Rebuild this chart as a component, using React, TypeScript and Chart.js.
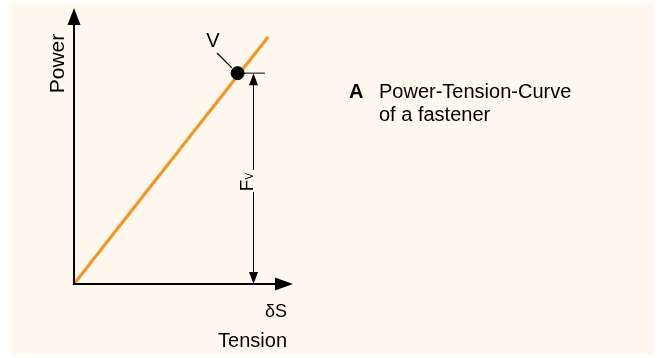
import React, { useEffect, useRef } from "react";
import { Chart, registerables } from "chart.js";

Chart.register(...registerables);

// ---- data (chart units) ----
const axisMax = 10;
const curveTension = [0, 8.87];
const curvePower = [0, 8.96];
const vTension = [7.47];
const vPower = [7.64];
const tickTension = [7.47, 8.72];
const leaderTension = [6.53, 7.21];
const leaderPower = [8.37, 7.83];
const fvTension = 8.22;

const xLabel = "Tension";
const xSymbol = "δS";
const yLabel = "Power";
const pointLabel = "V";
const dimLabel = "F";
const dimSub = "V";
const legendKey = "A";
const legendLines = ["Power-Tension-Curve", "of a fastener"];

const ORANGE = "#f7941d";
const PANEL = "#fef8ee";
const FONT = "'Liberation Sans', Arial, Helvetica, sans-serif";

const pts = (xs: number[], ys: number[]) => xs.map((x, i) => ({ x, y: ys[i] }));

const drawPlugin = {
  id: "sketch",
  beforeDraw(chart: any) {
    const ctx = chart.ctx;
    ctx.save();
    ctx.fillStyle = "#ffffff";
    ctx.fillRect(0, 0, chart.width, chart.height);
    ctx.fillStyle = PANEL;
    ctx.fillRect(11, 3, 643, 352);
    ctx.restore();
  },
  afterDatasetsDraw(chart: any) {
    const ctx = chart.ctx;
    const xs = chart.scales.x;
    const ys = chart.scales.y;
    const x0 = xs.getPixelForValue(0);
    const y0 = ys.getPixelForValue(0);
    const xEnd = xs.getPixelForValue(axisMax);
    const yTop = ys.getPixelForValue(axisMax);
    ctx.save();
    ctx.strokeStyle = "#000";
    ctx.fillStyle = "#000";
    // y axis
    ctx.lineWidth = 2;
    ctx.beginPath();
    ctx.moveTo(x0, y0 + 1);
    ctx.lineTo(x0, yTop + 15);
    ctx.stroke();
    ctx.beginPath();
    ctx.moveTo(x0, yTop);
    ctx.lineTo(x0 - 6.5, yTop + 17);
    ctx.lineTo(x0 + 6.5, yTop + 17);
    ctx.closePath();
    ctx.fill();
    // x axis
    ctx.beginPath();
    ctx.moveTo(x0 - 1, y0);
    ctx.lineTo(xEnd - 16, y0);
    ctx.stroke();
    ctx.beginPath();
    ctx.moveTo(xEnd, y0);
    ctx.lineTo(xEnd - 18, y0 - 6.5);
    ctx.lineTo(xEnd - 18, y0 + 6.5);
    ctx.closePath();
    ctx.fill();

    // dimension arrow F_V
    const fx = Math.round(xs.getPixelForValue(fvTension)) - 0.5;
    const fyTop = ys.getPixelForValue(vPower[0]);
    ctx.font = `19px ${FONT}`;
    const wF = ctx.measureText(dimLabel).width;
    ctx.font = `10px ${FONT}`;
    const wV = ctx.measureText(dimSub).width;
    const wText = wF + wV;
    const tCenter = 182;
    const gapTop = tCenter - wText / 2 - 3;
    const gapBot = tCenter + wText / 2 + 1;
    ctx.lineWidth = 1;
    ctx.beginPath();
    ctx.moveTo(fx, fyTop + 10);
    ctx.lineTo(fx, gapTop);
    ctx.moveTo(fx, gapBot);
    ctx.lineTo(fx, y0 - 10);
    ctx.stroke();
    ctx.beginPath();
    ctx.moveTo(fx, fyTop);
    ctx.lineTo(fx - 4.5, fyTop + 12);
    ctx.lineTo(fx + 4.5, fyTop + 12);
    ctx.closePath();
    ctx.fill();
    ctx.beginPath();
    ctx.moveTo(fx, y0);
    ctx.lineTo(fx - 4.5, y0 - 12);
    ctx.lineTo(fx + 4.5, y0 - 12);
    ctx.closePath();
    ctx.fill();

    // rotated F_V label
    ctx.save();
    ctx.translate(fx - 0.5, tCenter + wText / 2);
    ctx.rotate(-Math.PI / 2);
    ctx.textBaseline = "alphabetic";
    ctx.textAlign = "left";
    ctx.font = `19px ${FONT}`;
    ctx.fillText(dimLabel, 0, 0);
    ctx.font = `10px ${FONT}`;
    ctx.fillText(dimSub, wF, 0);
    ctx.restore();

    // V label
    const lx = xs.getPixelForValue(leaderTension[0]);
    const ly = ys.getPixelForValue(leaderPower[0]);
    ctx.font = `20px ${FONT}`;
    ctx.textAlign = "center";
    ctx.textBaseline = "alphabetic";
    ctx.fillText(pointLabel, lx - 4, ly - 6);

    // Power label (rotated)
    ctx.save();
    ctx.translate(x0 - 10, 63.5);
    ctx.rotate(-Math.PI / 2);
    ctx.font = `21px ${FONT}`;
    ctx.textAlign = "center";
    ctx.textBaseline = "alphabetic";
    ctx.fillText(yLabel, 0, 0);
    ctx.restore();

    // x labels
    ctx.textAlign = "right";
    ctx.font = `18px ${FONT}`;
    ctx.fillText(xSymbol, xEnd - 6, y0 + 33);
    ctx.font = `20px ${FONT}`;
    ctx.fillText(xLabel, xEnd - 6, y0 + 63);

    // legend block
    ctx.textAlign = "left";
    ctx.font = `bold 20px ${FONT}`;
    ctx.fillText(legendKey, 349, 98);
    ctx.font = `20px ${FONT}`;
    ctx.fillText(legendLines[0], 379, 98);
    ctx.fillText(legendLines[1], 379, 121);
    ctx.restore();
  },
};

export default function App() {
  const ref = useRef<HTMLCanvasElement | null>(null);
  useEffect(() => {
    if (!ref.current) return;
    const chart = new Chart(ref.current, {
      type: "scatter",
      data: {
        datasets: [
          {
            data: pts(vTension, vPower),
            backgroundColor: "#000",
            borderColor: "#000",
            pointRadius: 6.5,
            order: 0,
            clip: false as any,
          },
          {
            data: pts(leaderTension, leaderPower),
            showLine: true,
            borderColor: "#000",
            borderWidth: 1.2,
            pointRadius: 0,
            order: 1,
            clip: false as any,
          },
          {
            data: pts(tickTension, [vPower[0], vPower[0]]),
            showLine: true,
            borderColor: "#000",
            borderWidth: 1,
            pointRadius: 0,
            order: 2,
            clip: false as any,
          },
          {
            data: pts(curveTension, curvePower),
            showLine: true,
            borderColor: ORANGE,
            borderWidth: 3,
            pointRadius: 0,
            order: 3,
            clip: false as any,
          },
        ],
      },
      options: {
        responsive: false,
        animation: false,
        layout: { padding: { left: 74, right: 367, top: 8, bottom: 74 } },
        scales: {
          x: { type: "linear", min: 0, max: axisMax, display: false },
          y: { type: "linear", min: 0, max: axisMax, display: false },
        },
        plugins: { legend: { display: false }, tooltip: { enabled: false } },
      },
      plugins: [drawPlugin],
    });
    return () => chart.destroy();
  }, []);
  return (
    <div style={{ position: "fixed", left: 0, top: 0, width: 660, height: 358 }}>
      <canvas ref={ref} width={660} height={358} style={{ display: "block" }} />
    </div>
  );
}
